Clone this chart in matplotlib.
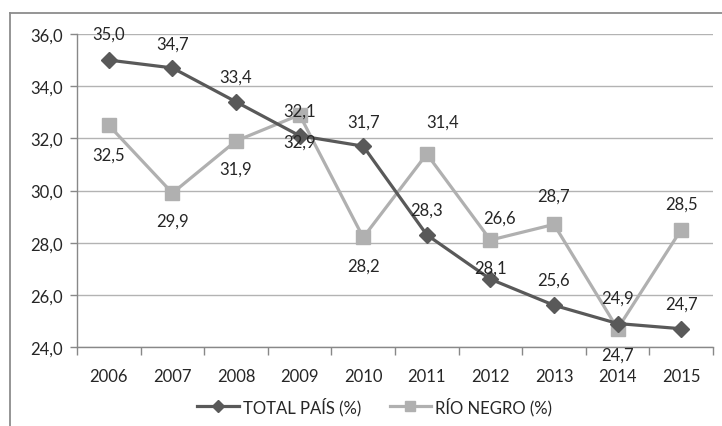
import matplotlib
matplotlib.use("Agg")
import matplotlib.pyplot as plt
from matplotlib.lines import Line2D
from matplotlib.ticker import FixedLocator, FuncFormatter

plt.rcParams['font.family'] = ['Lato', 'DejaVu Sans']

years = ['2006', '2007', '2008', '2009', '2010', '2011', '2012', '2013', '2014', '2015']
total_pais = [35.0, 34.7, 33.4, 32.1, 31.7, 28.3, 26.6, 25.6, 24.9, 24.7]
rio_negro = [32.5, 29.9, 31.9, 32.9, 28.2, 31.4, 28.1, 28.7, 24.7, 28.5]
series_names = ['TOTAL PAÍS (%)', 'RÍO NEGRO (%)']
y_ticks = [24, 26, 28, 30, 32, 34, 36]

# label offsets in pixels (dx, dy downward)
off_total = [(0, -26), (0, -24), (0, -25), (0, -25), (0, -25), (0, -25), (9, -62), (0, -26), (0, -26), (0, -25)]
off_rio = [(0, 29), (0, 28), (0, 28), (0, 27), (0, 28), (16, -32), (0, 28), (0, -29), (0, 26), (0, -26)]

DARK = '#595959'
LIGHT = '#b0b0b0'
TXT = '#262626'
FS = 12

fig = plt.figure(figsize=(7.22, 4.27), dpi=100)
ax = fig.add_axes([77/722, 1 - 348/427, (713 - 77)/722, (348 - 35)/427])

x = list(range(len(years)))
ax.plot(x, total_pais, color=DARK, lw=2.3, marker='D', ms=7.8, mec=DARK, mfc=DARK,
        label=series_names[0], zorder=4)
ax.plot(x, rio_negro, color=LIGHT, lw=2.3, marker='s', ms=9.5, mec=LIGHT, mfc=LIGHT,
        label=series_names[1], zorder=3)

def fmt(v):
    return f"{v:.1f}".replace('.', ',')

for i, v in enumerate(total_pais):
    dx, dy = off_total[i]
    ax.annotate(fmt(v), (i, v), xytext=(dx, -dy), textcoords='offset pixels',
                ha='center', va='center', fontsize=FS, color=TXT, zorder=6)
for i, v in enumerate(rio_negro):
    dx, dy = off_rio[i]
    ax.annotate(fmt(v), (i, v), xytext=(dx, -dy), textcoords='offset pixels',
                ha='center', va='center', fontsize=FS, color=TXT, zorder=6)

ax.set_xlim(-0.5, len(years) - 0.5)
ax.set_ylim(24, 36)
ax.set_yticks(y_ticks)
ax.yaxis.set_major_formatter(FuncFormatter(lambda v, p: fmt(v)))
ax.set_xticks(x)
ax.set_xticklabels(years)
ax.xaxis.set_minor_locator(FixedLocator([i - 0.5 for i in range(len(years) + 1)]))
ax.tick_params(axis='x', which='major', length=0, pad=15, labelsize=FS, labelcolor=TXT)
ax.tick_params(axis='x', which='minor', length=6, color='#888888', width=1)
ax.tick_params(axis='y', length=5, color='#888888', width=1, pad=5, labelsize=FS, labelcolor=TXT)

ax.grid(axis='y', color='#b3b3b3', lw=1)
ax.set_axisbelow(True)
for s in ['top', 'right']:
    ax.spines[s].set_visible(False)
for s in ['left', 'bottom']:
    ax.spines[s].set_color('#888888')
    ax.spines[s].set_linewidth(1)

fig.legend(loc='center', bbox_to_anchor=(0.519, 1 - 407/427), ncol=2, frameon=False,
           fontsize=FS, handlelength=2.5, handletextpad=0.25, columnspacing=1.7,
           markerscale=0.8, labelcolor=TXT)

# chart area border (partially visible)
fig.add_artist(Line2D([10/722, 10/722], [0, 1 - 14/427], transform=fig.transFigure,
                      color='#8c8c8c', lw=1.3))
fig.add_artist(Line2D([10/722, 1], [1 - 14/427, 1 - 14/427], transform=fig.transFigure,
                      color='#8c8c8c', lw=1.3))

fig.savefig('out.png', dpi=100)
